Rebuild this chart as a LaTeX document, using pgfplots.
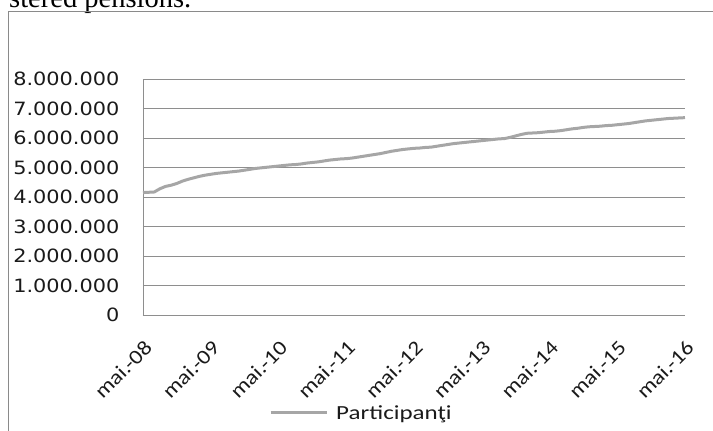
\documentclass[border=0pt]{standalone}
\usepackage{pgfplots}
\pgfplotsset{compat=1.18}
\usepackage{fontspec}
\setmainfont{Carlito}
\newfontfamily\widefont[FakeStretch=1.25]{Carlito}
\newfontfamily\tickfont[FakeStretch=1.15]{Carlito}
\newfontfamily\numfont[FakeStretch=1.14]{DejaVu Sans}
\newfontfamily\docfont{Liberation Serif}

\definecolor{serie}{HTML}{A6A6A6}
\definecolor{grila}{HTML}{8E8E8E}
\definecolor{rama}{HTML}{8A8A8A}
\definecolor{txt}{HTML}{1A1A1A}

% participanti, lunar, mai 2008 (luna 0) - mai 2016 (luna 96)
\pgfplotstableread{
luna val
0 4150000
1 4160000
2 4170000
3 4280000
4 4360000
5 4400000
6 4460000
7 4540000
8 4600000
9 4650000
10 4700000
11 4740000
12 4770000
13 4800000
14 4820000
15 4840000
16 4860000
17 4880000
18 4910000
19 4940000
20 4970000
21 4990000
22 5010000
23 5030000
24 5050000
25 5070000
26 5090000
27 5100000
28 5120000
29 5150000
30 5170000
31 5190000
32 5220000
33 5250000
34 5270000
35 5290000
36 5300000
37 5320000
38 5350000
39 5380000
40 5410000
41 5440000
42 5470000
43 5510000
44 5550000
45 5580000
46 5610000
47 5630000
48 5650000
49 5660000
50 5680000
51 5690000
52 5720000
53 5750000
54 5780000
55 5810000
56 5830000
57 5850000
58 5870000
59 5890000
60 5910000
61 5930000
62 5950000
63 5970000
64 5980000
65 6020000
66 6070000
67 6120000
68 6160000
69 6170000
70 6180000
71 6200000
72 6220000
73 6230000
74 6250000
75 6280000
76 6310000
77 6330000
78 6360000
79 6380000
80 6390000
81 6400000
82 6420000
83 6430000
84 6450000
85 6470000
86 6490000
87 6520000
88 6550000
89 6580000
90 6600000
91 6620000
92 6640000
93 6660000
94 6670000
95 6680000
96 6690000
}\participanti

\begin{document}
\begin{tikzpicture}
\useasboundingbox (0pt,0pt) rectangle (713pt,-431pt);
% text of the page above the chart, cut at the top
\node[anchor=base west, inner sep=0pt, font=\docfont\fontsize{28.5}{31}\selectfont]
  at (9pt,-7pt) {stered pensions.};
% chart frame
\draw[rama, line width=0.9pt] (8pt,-440pt) -- (8pt,-11.5pt) -- (720pt,-11.5pt);

\begin{axis}[
  scale only axis,
  width=542pt, height=236pt,
  at={(143pt,-315pt)}, anchor=south west,
  xmin=0, xmax=96,
  ymin=0, ymax=8000000,
  axis x line*=bottom, axis y line*=left,
  axis line style={grila, line width=0.9pt},
  ymajorgrids,
  major grid style={grila, line width=0.9pt},
  major tick length=0pt,
  xtick={0,12,...,96},
  xticklabels={mai.-08,mai.-09,mai.-10,mai.-11,mai.-12,mai.-13,mai.-14,mai.-15,mai.-16},
  xticklabel style={rotate=45, anchor=east, xshift=-13.5pt, yshift=-24.5pt,
    font=\tickfont\fontsize{20.5}{22}\selectfont, text=txt},
  ytick={0,1000000,...,8000000},
  scaled y ticks=false,
  yticklabel style={anchor=east, xshift=-20pt, font=\numfont\fontsize{18.3}{20}\selectfont, text=txt,
    /pgf/number format/.cd, fixed, 1000 sep={.}, assume math mode=true},
  legend style={at={(0.227,-0.415)}, anchor=west, draw=none, fill=none,
    font=\widefont\fontsize{20}{23}\selectfont, text=txt},
  legend image code/.code={\draw[#1, line width=3pt] (0pt,0pt) -- (56pt,0pt); \path (62pt,0pt);},
  clip=false,
]
\addplot[serie, line width=3pt] table[x=luna, y=val] {\participanti};
\addlegendentry{Participanţi}
\end{axis}
\end{tikzpicture}
\end{document}
